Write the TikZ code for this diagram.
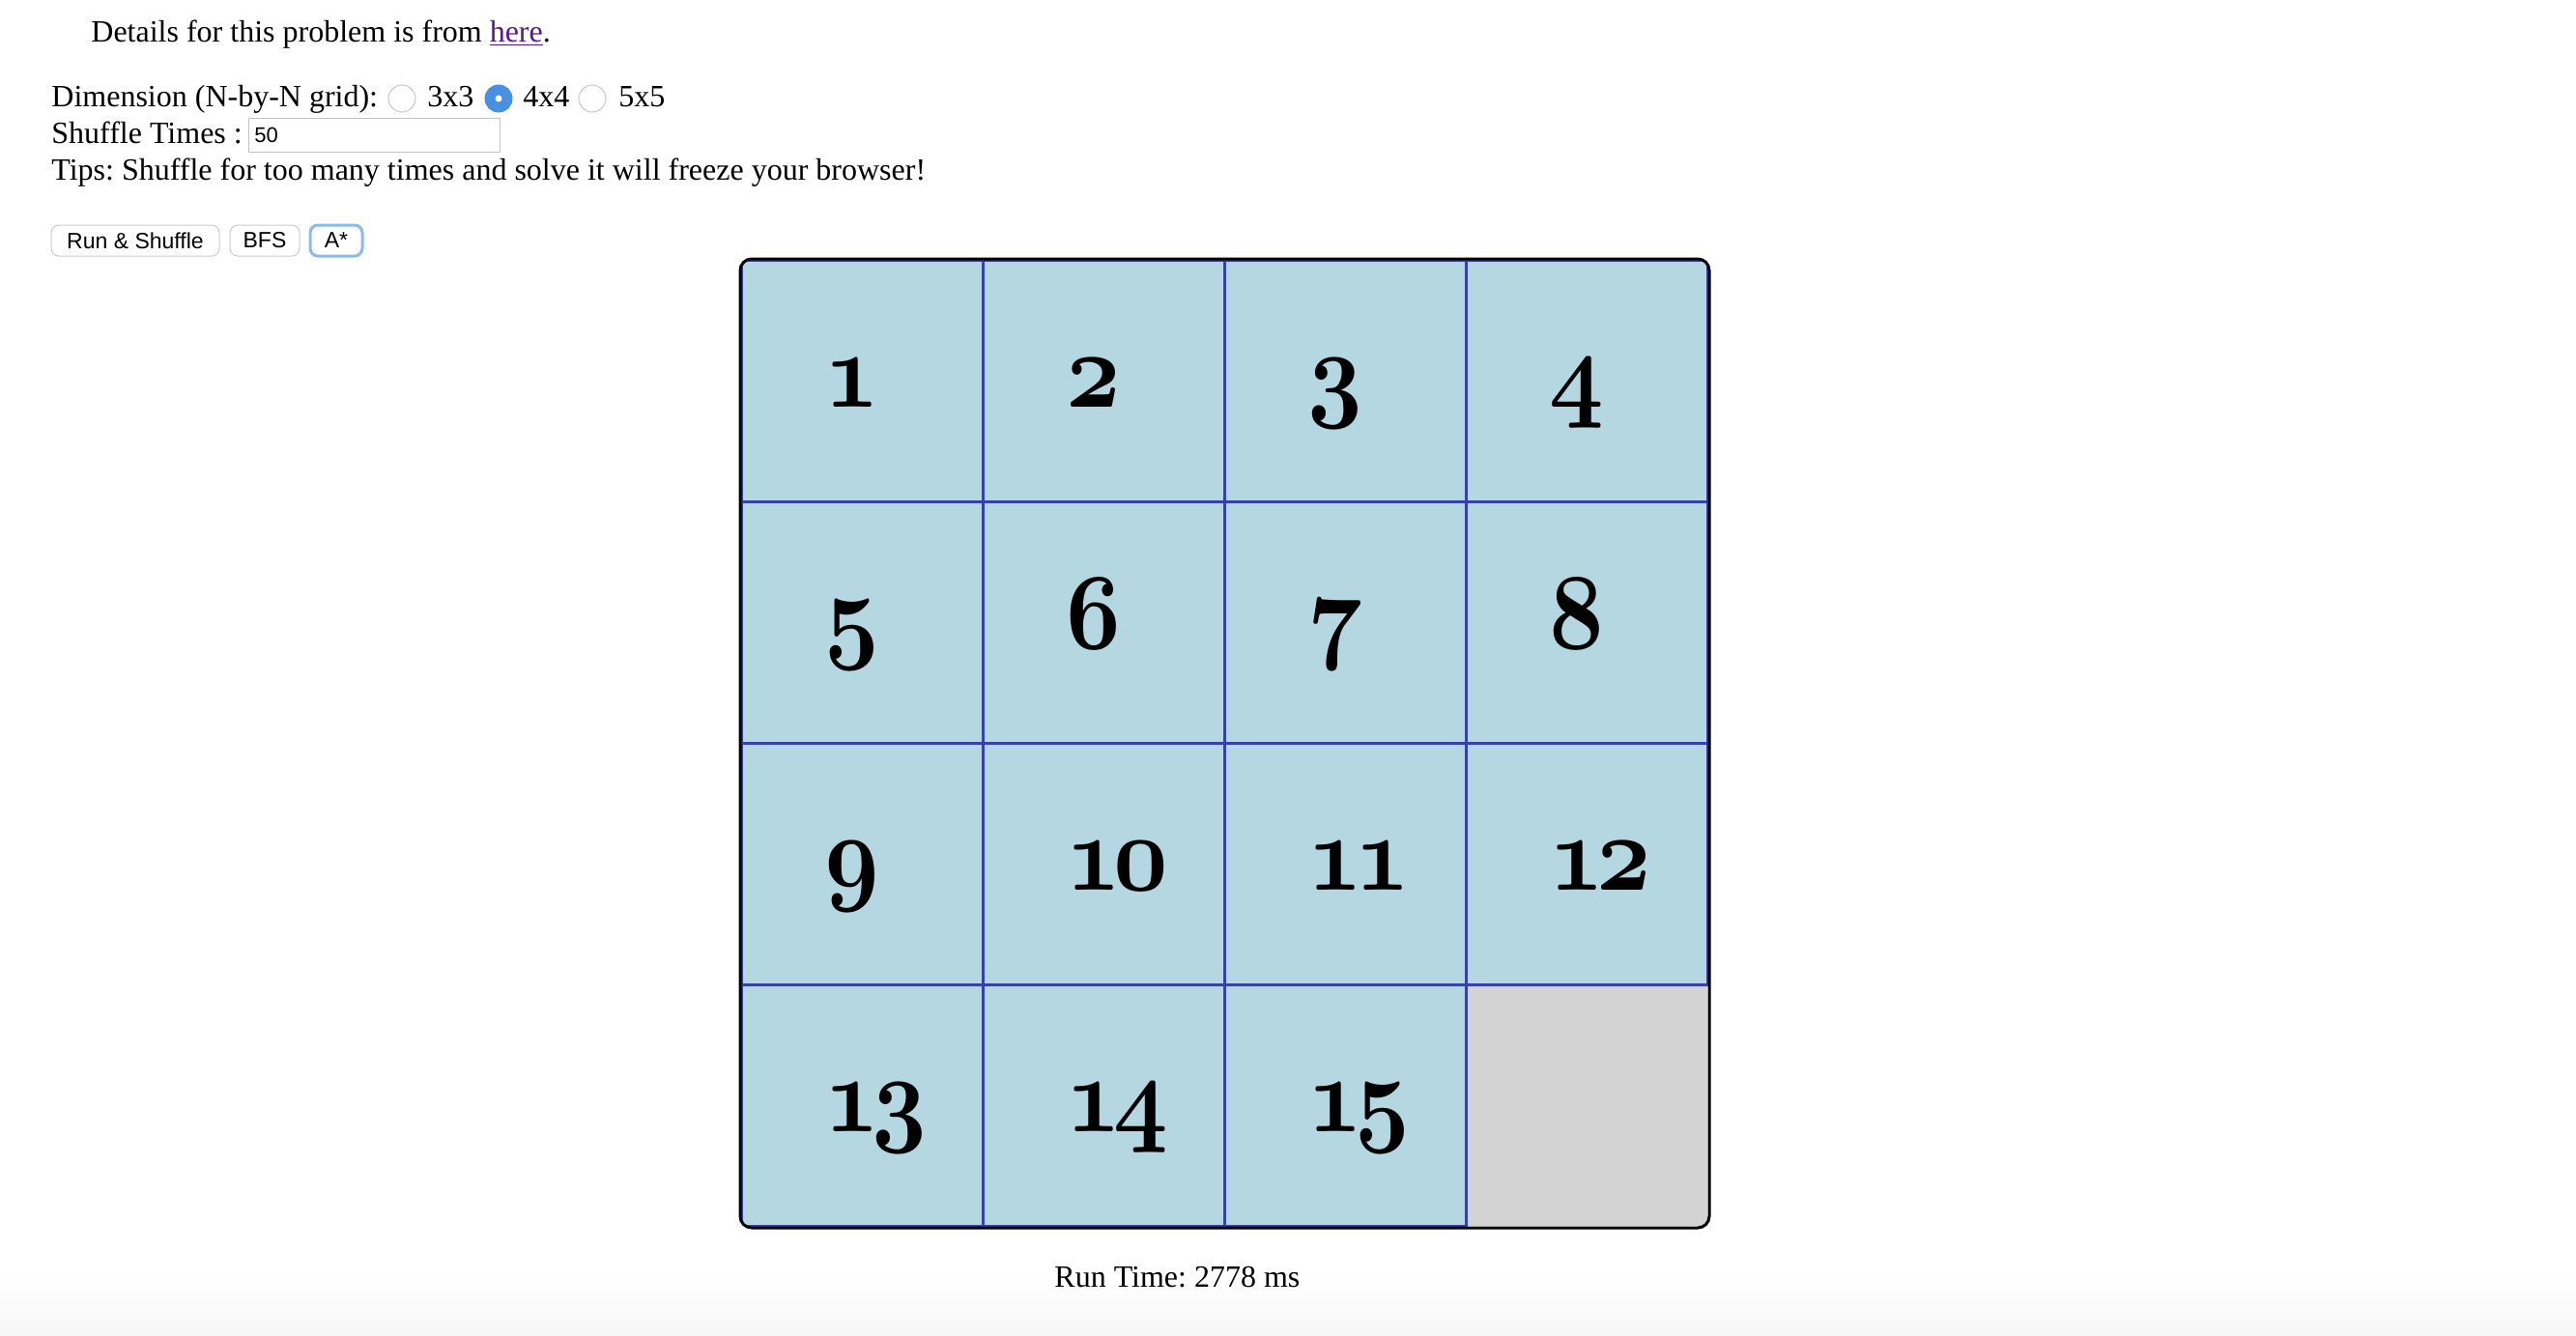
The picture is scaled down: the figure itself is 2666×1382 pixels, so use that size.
\RequirePackage{fix-cm}
\documentclass[tikz,border=0pt]{standalone}
\usepackage{fontspec}
\setmainfont{Liberation Serif}
\setsansfont{Liberation Sans}
\usetikzlibrary{positioning}
\frenchspacing
\definecolor{tileblue}{RGB}{181,215,226}
\definecolor{gridblue}{RGB}{52,66,170}
\definecolor{emptygray}{RGB}{211,211,211}
\definecolor{radioblue}{RGB}{74,144,226}
\definecolor{focusblue}{RGB}{140,185,240}
\definecolor{linkpurple}{RGB}{85,26,139}
\definecolor{framegray}{RGB}{195,195,195}
\tikzstyle{tile}=[rectangle, draw=gridblue, fill=tileblue, line width=1.5pt, minimum size=125pt, inner sep=0pt]
\tikzstyle{blank}=[rectangle, fill=emptygray, minimum size=125pt, inner sep=0pt]
\tikzstyle{num}=[anchor=base west, inner sep=0pt, transform shape, xscale=0.88, font=\fontsize{56}{60}\usefont{OML}{cmm}{b}{it}]
\tikzstyle{txt}=[anchor=base west, inner sep=0pt, font=\fontsize{16}{19}\selectfont]
\tikzstyle{radio}=[circle, draw=gray!45, fill=white, line width=0.5pt, minimum size=14pt, inner sep=0pt]
\tikzstyle{button}=[rectangle, rounded corners=4pt, draw=gray!40, fill=white, line width=0.5pt, minimum height=16pt, inner sep=0pt, font=\sffamily\fontsize{11.5}{13}\selectfont]
\newcommand{\tile}{\node[tile]}
\newcommand{\tnum}{\node[num]}
\newcommand{\dd}[2]{#1\kern-.07em#2}

\begin{document}
\begin{tikzpicture}[x=0.5pt, y=-0.5pt]
\useasboundingbox (0,0) rectangle (2666,1382);
\shade[top color=white, bottom color=gray!7] (0,1320) rectangle (2666,1382);
% form
\node[txt] (details) at (94,43) {Details for this problem is from \textcolor{linkpurple}{\underline{here}}.};
\node[txt] (dim) at (53,110) {Dimension (N-by-N grid):};
\node[radio] (r3) at (416,102) {};
\node[txt] (l3) at (442,110) {3x3};
\node[radio, draw=radioblue, fill=radioblue] (r4) at (516,102) {};
\node[circle, fill=white, minimum size=3.5pt, inner sep=0pt] (dot) at (r4) {};
\node[txt] (l4) at (541,110) {4x4};
\node[radio] (r5) at (613,102) {};
\node[txt] (l5) at (640,110) {5x5};
\node[txt] (shuffle) at (53,148) {Shuffle Times :};
\node[rectangle, draw=framegray, line width=0.5pt, minimum width=130pt, minimum height=17.5pt, inner sep=0pt] (times) at (387,139.5) {};
\node[anchor=base west, inner sep=0pt, font=\sffamily\fontsize{11}{13}\selectfont] (fifty) at (263,147) {50};
\node[txt] (tips) at (53,186) {Tips: Shuffle for too many times and solve it will freeze your browser!};
\node[button, minimum width=87pt] (run) at (140,249) {Run \& Shuffle};
\node[button, minimum width=36pt, right=5pt of run] (bfs) {BFS};
\node[button, minimum width=27pt, right=4.5pt of bfs, draw=focusblue, line width=1.5pt] (astar) {A*};
% board
\begin{scope}
\clip[rounded corners=6pt] (767,269) rectangle (1768,1270);
\node[blank] (t16) at (1642,1144) {};
\tile (t1) at (892,394) {};
\tile (t2) at (1142,394) {};
\tile (t3) at (1392,394) {};
\tile (t4) at (1642,394) {};
\tile (t5) at (892,644) {};
\tile (t6) at (1142,644) {};
\tile (t7) at (1392,644) {};
\tile (t8) at (1642,644) {};
\tile (t9) at (892,894) {};
\tile (t10) at (1142,894) {};
\tile (t11) at (1392,894) {};
\tile (t12) at (1642,894) {};
\tile (t13) at (892,1144) {};
\tile (t14) at (1142,1144) {};
\tile (t15) at (1392,1144) {};
\end{scope}
\draw[line width=1.5pt, rounded corners=6pt] (766,268) rectangle (1769,1271);
\tnum (n1) at (853,421) {1};
\tnum (n2) at (1103,421) {2};
\tnum (n3) at (1353,421) {3};
\tnum (n4) at (1603,421) {4};
\tnum (n5) at (853,671) {5};
\tnum (n6) at (1103,671) {6};
\tnum (n7) at (1353,671) {7};
\tnum (n8) at (1603,671) {8};
\tnum (n9) at (853,921) {9};
\tnum (n10) at (1103,921) {\dd10};
\tnum (n11) at (1353,921) {\dd11};
\tnum (n12) at (1603,921) {\dd12};
\tnum (n13) at (853,1171) {\dd13};
\tnum (n14) at (1103,1171) {\dd14};
\tnum (n15) at (1353,1171) {\dd15};
\node[txt] (runtime) at (1091,1332) {Run Time: 2778 ms};
\end{tikzpicture}
\end{document}
